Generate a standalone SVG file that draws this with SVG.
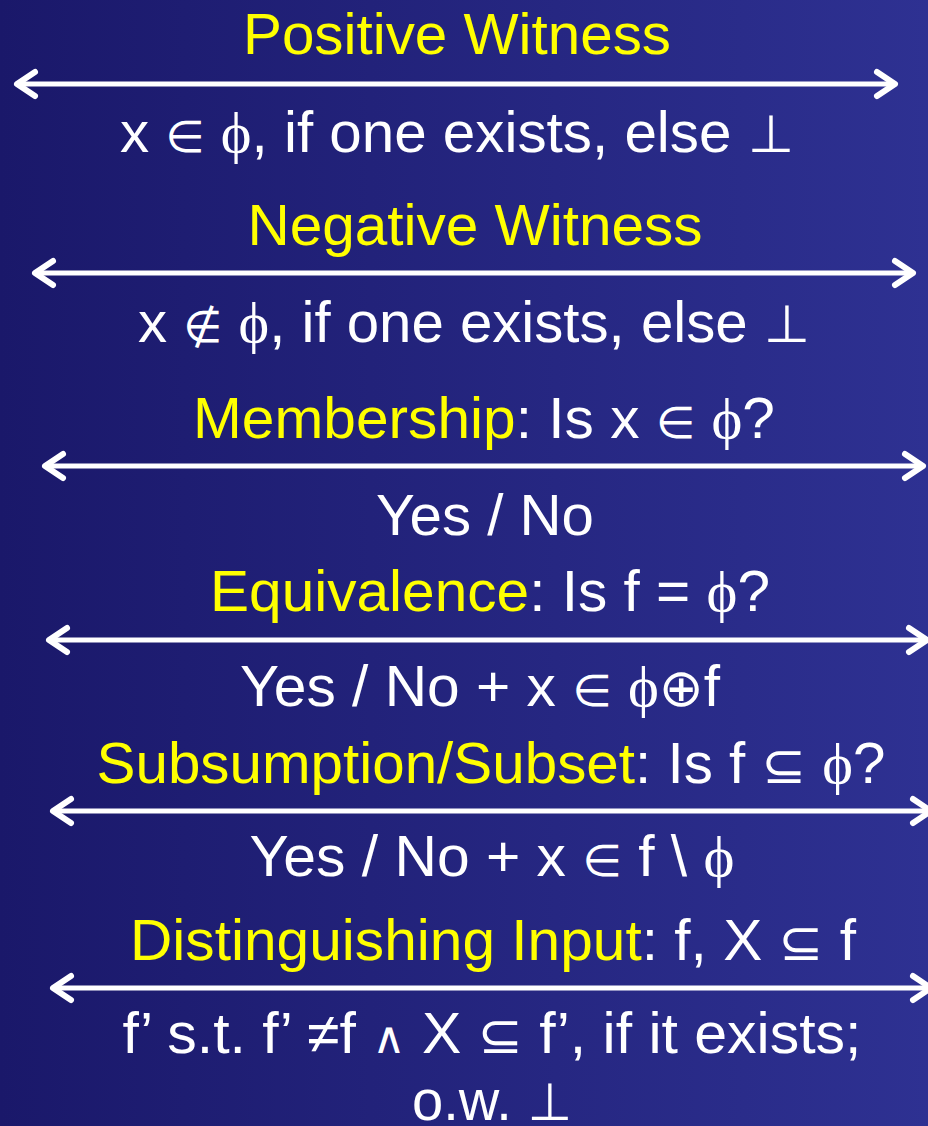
<svg xmlns="http://www.w3.org/2000/svg" width="928" height="1126" viewBox="0 0 928 1126">
<defs>
<linearGradient id="bg" x1="0" y1="0" x2="1" y2="0">
<stop offset="0" stop-color="#1a186a"/>
<stop offset="1" stop-color="#2e3192"/>
</linearGradient>
<marker id="head" viewBox="-26 -16 32 32" markerWidth="32" markerHeight="32" refX="0" refY="0" orient="auto-start-reverse" markerUnits="userSpaceOnUse">
<path d="M -18,-12 L 0,0 L -18,12" fill="none" stroke="#ffffff" stroke-width="6" stroke-linecap="round" stroke-linejoin="round"/>
</marker>
</defs>
<style>
text{font-family:"Liberation Sans",Arial,sans-serif;font-size:57px;text-anchor:middle;fill:#ffffff}
.y{fill:#ffff00}
.m{font-family:"Liberation Serif","DejaVu Serif",serif}
.s{font-family:"DejaVu Sans","Liberation Serif",serif;font-size:44px}
.b{font-family:"DejaVu Sans","Liberation Serif",serif;font-size:52px}
.arr{stroke:#ffffff;stroke-width:5;fill:none;marker-start:url(#head);marker-end:url(#head)}
</style>
<rect width="928" height="1126" fill="url(#bg)"/>
<g id="connectors">
<line class="arr" x1="17" y1="84" x2="895" y2="84"/>
<line class="arr" x1="35" y1="273" x2="913" y2="273"/>
<line class="arr" x1="45" y1="466" x2="923" y2="466"/>
<line class="arr" x1="49" y1="640" x2="927" y2="640"/>
<line class="arr" x1="53" y1="811" x2="931" y2="811"/>
<line class="arr" x1="53" y1="988" x2="931" y2="988"/>
</g>
<g id="positive-witness">
<text class="y" x="457" y="54" textLength="428" lengthAdjust="spacingAndGlyphs">Positive Witness</text>
<text x="457" y="152" textLength="674" lengthAdjust="spacingAndGlyphs">x <tspan class="s">∈</tspan> <tspan class="m">ϕ</tspan>, if one exists, else <tspan class="b">⊥</tspan></text>
</g>
<g id="negative-witness">
<text class="y" x="475" y="245" textLength="455" lengthAdjust="spacingAndGlyphs">Negative Witness</text>
<text x="474" y="342" textLength="672" lengthAdjust="spacingAndGlyphs">x <tspan class="s">∉</tspan> <tspan class="m">ϕ</tspan>, if one exists, else <tspan class="b">⊥</tspan></text>
</g>
<g id="membership">
<text x="484" y="438" textLength="582" lengthAdjust="spacingAndGlyphs"><tspan class="y">Membership</tspan>: Is x <tspan class="s">∈</tspan> <tspan class="m">ϕ</tspan>?</text>
<text x="485" y="535" textLength="218" lengthAdjust="spacingAndGlyphs">Yes / No</text>
</g>
<g id="equivalence">
<text x="490" y="611" textLength="560" lengthAdjust="spacingAndGlyphs"><tspan class="y">Equivalence</tspan>: Is f = <tspan class="m">ϕ</tspan>?</text>
<text x="480" y="706" textLength="480" lengthAdjust="spacingAndGlyphs">Yes / No + x <tspan class="s">∈</tspan> <tspan class="m">ϕ</tspan><tspan class="b">⊕</tspan>f</text>
</g>
<g id="subsumption">
<text x="491" y="783" textLength="789" lengthAdjust="spacingAndGlyphs"><tspan class="y">Subsumption/Subset</tspan>: Is f <tspan class="b">⊆</tspan> <tspan class="m">ϕ</tspan>?</text>
<text x="492" y="876" textLength="485" lengthAdjust="spacingAndGlyphs">Yes / No + x <tspan class="s">∈</tspan> f \ <tspan class="m">ϕ</tspan></text>
</g>
<g id="distinguishing-input">
<text x="493" y="960" textLength="726" lengthAdjust="spacingAndGlyphs"><tspan class="y">Distinguishing Input</tspan>: f, X <tspan class="b">⊆</tspan> f</text>
<text x="492" y="1053" textLength="739" lengthAdjust="spacingAndGlyphs">f’ s.t. f’ ≠f <tspan class="s">∧</tspan> X <tspan class="b">⊆</tspan> f’, if it exists;</text>
<text x="492" y="1120" textLength="160" lengthAdjust="spacingAndGlyphs">o.w. <tspan class="b">⊥</tspan></text>
</g>
</svg>
